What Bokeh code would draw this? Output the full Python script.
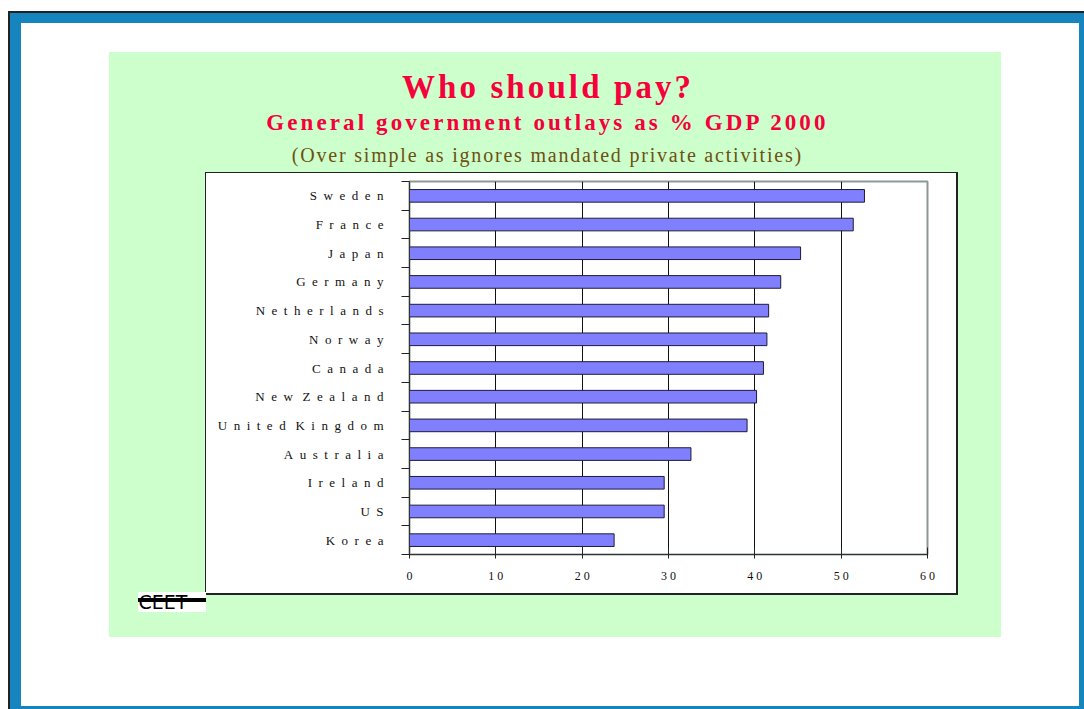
from bokeh.plotting import figure
from bokeh.layouts import column
from bokeh.models import Range1d, FixedTicker, Title, Label
from bokeh.embed import file_html
from bokeh.resources import INLINE

# ---- data ----
countries = ["Sweden", "France", "Japan", "Germany", "Netherlands", "Norway", "Canada",
             "New Zealand", "United Kingdom", "Australia", "Ireland", "US", "Korea"]
outlays = [52.7, 51.4, 45.3, 43.0, 41.6, 41.4, 41.0, 40.2, 39.1, 32.6, 29.5, 29.5, 23.7]
x_ticks = [0, 10, 20, 30, 40, 50, 60]
x_tick_labels = ["0", "1 0", "2 0", "3 0", "4 0", "5 0", "6 0"]
grid_ticks = [10, 20, 30, 40, 50]
title_text = "Who should pay?"
subtitle_text = "General government outlays as % GDP 2000"
note_text = "(Over simple as ignores mandated private activities)"
logo_text = "CEET"

# ---- layout (page px) ----
W, H = 1084, 709
HA, HB = 140, 32                 # heights of the two title strips
HC = H - HA - HB                 # main chart strip
FL, FR = 409, 927                # plot frame, page x
FT, FB = 181, 554                # plot frame, page y
CX = 546                         # centre line of the titles
SERIF = "Liberation Serif"
LS_A, LS_B = 3.1, 1.8            # letter spacing of title strips


def spaced(s):
    return "\u2002 ".join("\u2002".join(w) for w in s.split(" "))


def rect_layer(color, x, y, w, h):
    return f"linear-gradient({color},{color}) {x}px {y}px / {w}px {h}px no-repeat"


def no_frame_align(f):
    if "frame_align" in f.properties():
        f.frame_align = False


# page decorations painted behind the (transparent) canvases
layers = [
    rect_layer("#000000", 138, 598, 68, 4),      # logo band
    rect_layer("#ffffff", 138, 592, 68, 20),     # logo background
    rect_layer("#ffffff", 206, 173, 750, 420),   # chart box inside
    rect_layer("#222222", 205, 172, 753, 423),   # chart box border
    rect_layer("#ccffcc", 109, 52, 892, 585),    # green panel
    rect_layer("#ffffff", 21, 23, 1058, 683),    # page inside
    rect_layer("#1785bd", 10, 13, 1074, 696),    # blue frame
    rect_layer("#222222", 8, 11, 1076, 698),     # dark edge
]
background_css = ", ".join(layers) + ", #ffffff"


def text_strip(height, spacing):
    f = figure(frame_width=W, frame_height=height, x_range=Range1d(0, W), y_range=Range1d(height, 0),
               output_backend="svg", toolbar_location=None, title=None,
               x_axis_type=None, y_axis_type=None,
               min_border_left=0, min_border_right=0, min_border_top=0, min_border_bottom=0,
               styles={"letter-spacing": f"{spacing}px"})
    f.background_fill_color = None
    f.border_fill_color = None
    f.outline_line_color = None
    no_frame_align(f)
    return f


def centered(f, text, y, size, color, style, spacing):
    f.add_layout(Label(x=CX - (len(text) - 1) * spacing / 2, y=y, text=text,
                       text_align="center", text_baseline="alphabetic",
                       text_font=SERIF, text_font_style=style, text_font_size=size,
                       text_color=color))


# strip A: title and subtitle
pa = text_strip(HA, LS_A)
centered(pa, title_text, 86, "33px", "#f5003a", "bold", LS_A)
centered(pa, subtitle_text, 122, "23px", "#f5003a", "bold", LS_A)

# strip B: note
pb = text_strip(HB, LS_B)
centered(pb, note_text, 154 - HA, "20px", "#6e5010", "normal", LS_B)

# strip C: the chart
positions = list(range(len(countries)))
p = figure(width=W, height=HC, x_range=Range1d(0, 60),
           y_range=Range1d(len(countries) - 0.5, -0.5),
           output_backend="svg", toolbar_location=None, title=None,
           min_border_left=FL, min_border_right=W - FR,
           min_border_top=FT - HA - HB, min_border_bottom=H - FB)
no_frame_align(p)
p.background_fill_color = None
p.border_fill_color = None
p.outline_line_color = "#8c9a93"
p.outline_line_width = 2

p.ygrid.visible = False
p.xgrid.ticker = FixedTicker(ticks=grid_ticks)
p.xgrid.grid_line_color = "#111111"
p.xgrid.grid_line_width = 1

p.hbar(y=positions, left=0, right=outlays, height=0.44,
       fill_color="#8080ff", line_color="#1c1c3c", line_width=1)

xa = p.xaxis[0]
xa.ticker = FixedTicker(ticks=x_ticks)
xa.major_label_overrides = dict(zip(x_ticks, x_tick_labels))
xa.major_tick_in = 7
xa.major_tick_out = 4
xa.minor_tick_line_color = None
xa.axis_line_color = "#333333"
xa.major_tick_line_color = "#222222"
xa.major_label_text_font = SERIF
xa.major_label_text_font_size = "12px"
xa.major_label_text_color = "#111111"
xa.major_label_standoff = 10

ya = p.yaxis[0]
ya.ticker = FixedTicker(ticks=positions, minor_ticks=[i - 0.5 for i in range(len(countries) + 1)])
ya.major_label_overrides = {i: spaced(c) for i, c in zip(positions, countries)}
ya.major_tick_in = 0
ya.major_tick_out = 0
ya.minor_tick_in = 0
ya.minor_tick_out = 8
ya.minor_tick_line_color = "#222222"
ya.axis_line_color = "#333333"
ya.major_label_text_font = SERIF
ya.major_label_text_font_size = "13px"
ya.major_label_text_color = "#111111"
ya.major_label_standoff = 18

p.add_layout(Title(text=logo_text, align="left", offset=138 - FL, standoff=6,
                   text_font="DejaVu Sans", text_font_style="normal", text_font_size="19px",
                   text_color="black"), "below")

page = column(pa, pb, p, spacing=0, styles={"background": background_css})

open("out.html", "w").write(file_html(page, INLINE))
